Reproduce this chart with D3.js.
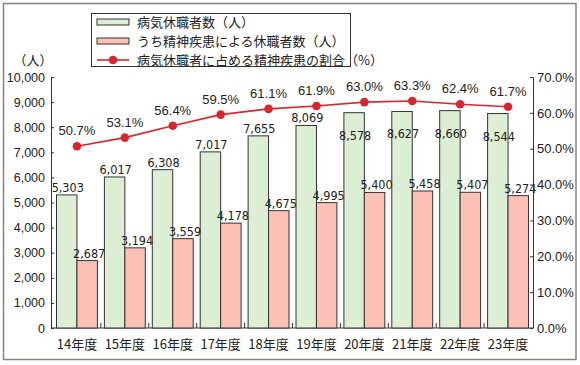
<!DOCTYPE html>
<html><head><meta charset="utf-8">
<script src="https://cdn.jsdelivr.net/npm/d3@7/dist/d3.min.js"></script>
<style>
body{margin:0;background:#fff;}
svg{display:block;}
.num{font-family:"Liberation Sans","Arial",sans-serif;}
.jp{font-family:"Noto Sans CJK JP","Noto Sans",sans-serif;}
.narrow{font-family:"Liberation Sans Narrow","DejaVu Sans Condensed","Liberation Sans",sans-serif;}
</style></head>
<body>
<svg id="c" width="580" height="365"></svg>
<script>
const categories = ["14年度","15年度","16年度","17年度","18年度","19年度","20年度","21年度","22年度","23年度"];
const totalLeave = [5303,6017,6308,7017,7655,8069,8578,8627,8660,8544];
const mentalLeave = [2687,3194,3559,4178,4675,4995,5400,5458,5407,5274];
const mentalRatio = [50.7,53.1,56.4,59.5,61.1,61.9,63.0,63.3,62.4,61.7];
const leftTicks = [0,1000,2000,3000,4000,5000,6000,7000,8000,9000,10000];
const rightTicks = [0,10,20,30,40,50,60,70];
const legendLabels = ["病気休職者数（人）","うち精神疾患による休職者数（人）","病気休職者に占める精神疾患の割合（%）"];
const unitLabel = "（人）";

const GREEN="#dcefd4", PINK="#fcc1b4", RED="#d9262c", DARK="#333";
const svg = d3.select("#c");

// frame
svg.append("rect").attr("x",3.5).attr("y",3.5).attr("width",572.5).attr("height",356)
  .attr("fill","#fff").attr("stroke","#8c827c").attr("stroke-width",1.5);

const x = d3.scaleBand().domain(categories).range([53,532]).paddingInner(0).paddingOuter(0);
const y = d3.scaleLinear().domain([0,10000]).range([328,77]);
const yR = d3.scaleLinear().domain([0,70]).range([328,77]);
const bw = x.bandwidth();
const pad = 3.5, barW = (bw - 2*pad)/2;

// baseline
svg.append("line").attr("x1",51).attr("x2",533).attr("y1",y(0)).attr("y2",y(0)).attr("stroke",DARK).attr("stroke-width",1);
// band separators
svg.append("g").selectAll("line").data(categories.slice(1)).join("line")
  .attr("x1",d=>x(d)).attr("x2",d=>x(d)).attr("y1",y(0)).attr("y2",y(0)-5)
  .attr("stroke",DARK).attr("stroke-width",1);

// bars
const g = svg.append("g");
g.selectAll("rect.t").data(categories).join("rect").attr("class","t")
  .attr("x",d=>x(d)+pad).attr("width",barW)
  .attr("y",(d,i)=>y(totalLeave[i])).attr("height",(d,i)=>y(0)-y(totalLeave[i]))
  .attr("fill",GREEN).attr("stroke",DARK).attr("stroke-width",1);
g.selectAll("rect.m").data(categories).join("rect").attr("class","m")
  .attr("x",d=>x(d)+pad+barW).attr("width",barW)
  .attr("y",(d,i)=>y(mentalLeave[i])).attr("height",(d,i)=>y(0)-y(mentalLeave[i]))
  .attr("fill",PINK).attr("stroke",DARK).attr("stroke-width",1);

const fmt = d3.format(",");
// bar value labels
g.selectAll("text.t").data(categories).join("text").attr("class","narrow")
  .attr("x",d=>x(d)+pad+barW/2+1)
  .attr("y",(d,i)=> totalLeave[i] > 8500 ? y(totalLeave[i])+27 : y(totalLeave[i])-3)
  .attr("text-anchor","middle").attr("font-size",12.5).attr("fill","#222")
  .text((d,i)=>fmt(totalLeave[i]));
g.selectAll("text.m").data(categories).join("text").attr("class","narrow")
  .attr("x",d=>x(d)+pad+barW*1.5+2)
  .attr("y",(d,i)=>y(mentalLeave[i])-3)
  .attr("text-anchor","middle").attr("font-size",12.5).attr("fill","#222")
  .text((d,i)=>fmt(mentalLeave[i]));

// line
const cx = d=>x(d)+bw/2;
const line = d3.line().x((d,i)=>cx(categories[i])).y(d=>yR(d));
svg.append("path").datum(mentalRatio).attr("d",line).attr("fill","none").attr("stroke",RED).attr("stroke-width",1.6);
svg.append("g").selectAll("circle").data(mentalRatio).join("circle")
  .attr("cx",(d,i)=>cx(categories[i])).attr("cy",d=>yR(d)).attr("r",4.3).attr("fill",RED);
svg.append("g").selectAll("text").data(mentalRatio).join("text").attr("class","num")
  .attr("x",(d,i)=>cx(categories[i])).attr("y",d=>yR(d)-11)
  .attr("text-anchor","middle").attr("font-size",13).attr("fill","#222")
  .text(d=>d.toFixed(1)+"%");

// axes
const axL = svg.append("g").attr("transform","translate(51,0)")
  .call(d3.axisLeft(y).tickValues(leftTicks).tickFormat(fmt).tickSizeInner(-3).tickSizeOuter(0).tickPadding(6));
const axR = svg.append("g").attr("transform","translate(533,0)")
  .call(d3.axisRight(yR).tickValues(rightTicks).tickFormat(d=>d.toFixed(1)+"%").tickSizeInner(-3).tickSizeOuter(0).tickPadding(4));
[axL,axR].forEach(a=>{
  a.select(".domain").attr("stroke",DARK);
  a.selectAll(".tick line").attr("stroke",DARK);
  a.selectAll("text").attr("class","num").attr("font-size",13).attr("fill","#222");
});
axL.selectAll("text").attr("font-size",12.5);

// x axis labels
const axB = svg.append("g").attr("transform",`translate(0,${y(0)})`)
  .call(d3.axisBottom(x).tickSize(0).tickPadding(12));
axB.select(".domain").remove();
axB.selectAll("text").attr("class","jp").attr("font-size",13).attr("fill","#222");

// unit label
svg.append("text").attr("class","jp").attr("x",33).attr("y",65).attr("text-anchor","middle")
  .attr("font-size",13).attr("fill","#222").text(unitLabel);

// legend
const lg = svg.append("g");
lg.append("rect").attr("x",91.5).attr("y",13.5).attr("width",259).attr("height",53)
  .attr("fill","#fff").attr("stroke",DARK).attr("stroke-width",1);
const rowsY = [22,41,60];
lg.append("rect").attr("x",97).attr("y",rowsY[0]-3).attr("width",32).attr("height",6).attr("fill",GREEN).attr("stroke",DARK);
lg.append("rect").attr("x",97).attr("y",rowsY[1]-3).attr("width",32).attr("height",6).attr("fill",PINK).attr("stroke",DARK);
lg.append("line").attr("x1",97).attr("x2",129).attr("y1",rowsY[2]).attr("y2",rowsY[2]).attr("stroke",RED).attr("stroke-width",1.6);
lg.append("circle").attr("cx",113).attr("cy",rowsY[2]).attr("r",4.3).attr("fill",RED);
lg.selectAll("text").data(legendLabels).join("text").attr("class","jp")
  .attr("x",137).attr("y",(d,i)=>rowsY[i]+4.5).attr("font-size",13).attr("fill","#222").text(d=>d);
</script>
</body></html>
